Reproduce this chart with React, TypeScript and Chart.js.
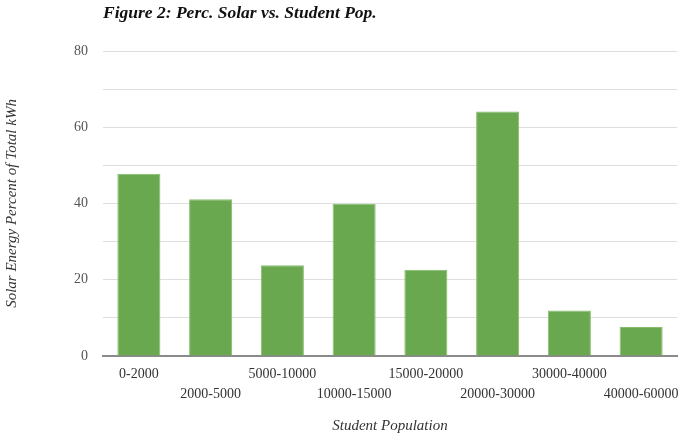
import React, { useEffect, useRef } from "react";
import { Chart, registerables } from "chart.js";

Chart.register(...registerables);

const categories: string[] = [
  "0-2000",
  "2000-5000",
  "5000-10000",
  "10000-15000",
  "15000-20000",
  "20000-30000",
  "30000-40000",
  "40000-60000",
];
const solarPercent: number[] = [47.8, 41.1, 23.8, 39.9, 22.6, 64.1, 11.9, 7.6];
const yTickLabels: number[] = [0, 20, 40, 60, 80];

const titleText = "Figure 2: Perc. Solar vs. Student Pop.";
const xTitle = "Student Population";
const yTitle = "Solar Energy Percent of Total kWh";

const SERIF = "'Liberation Serif', 'Times New Roman', serif";

export default function App() {
  const ref = useRef<HTMLCanvasElement | null>(null);

  useEffect(() => {
    if (!ref.current) return;
    const chart = new Chart(ref.current, {
      type: "bar",
      data: {
        labels: categories,
        datasets: [
          {
            label: "Solar %",
            data: solarPercent,
            backgroundColor: "#6aa84f",
            borderColor: "#86bd6c",
            borderWidth: 1,
            barPercentage: 0.6,
            categoryPercentage: 1.0,
          },
        ],
      },
      options: {
        responsive: false,
        animation: false,
        layout: { padding: { left: 0, right: 4, top: 0, bottom: 0 } },
        plugins: {
          legend: { display: false },
          tooltip: { enabled: false },
          title: {
            display: true,
            text: titleText,
            align: "start",
            fullSize: false,
            color: "#111",
            font: { family: SERIF, size: 17.5, style: "italic", weight: "bold" },
            padding: { top: 3, bottom: 27 },
          },
        },
        scales: {
          x: {
            grid: { display: false, drawTicks: false },
            border: { display: true, color: "#8a8a8a", width: 2 },
            ticks: {
              autoSkip: false,
              maxRotation: 0,
              minRotation: 0,
              padding: 8,
              color: "#333",
              font: { family: SERIF, size: 14, lineHeight: 1.43 },
              callback: (_v: any, i: number) =>
                i % 2 === 1 ? ["", categories[i]] : categories[i],
            },
            title: {
              display: true,
              text: xTitle,
              color: "#333",
              font: { family: SERIF, size: 15, style: "italic" },
              padding: { top: 5, bottom: 0 },
            },
            afterFit: (scale: any) => {
              scale.paddingRight = 0;
              scale.paddingLeft = 0;
            },
          },
          y: {
            min: 0,
            max: 80,
            grid: { color: "#dedede", lineWidth: 1, drawTicks: false },
            border: { display: false },
            ticks: {
              stepSize: 10,
              padding: 15,
              color: "#555",
              font: { family: SERIF, size: 14 },
              callback: (v: any) =>
                yTickLabels.includes(Number(v)) ? String(v) : "",
            },
            title: {
              display: true,
              text: yTitle,
              color: "#333",
              font: { family: SERIF, size: 15, style: "italic" },
              padding: { top: 3, bottom: 3 },
            },
            afterFit: (scale: any) => {
              scale.width = 103;
            },
          },
        },
      },
    });
    return () => chart.destroy();
  }, []);

  return (
    <div style={{ position: "fixed", left: 0, top: 0, width: 681, height: 435, background: "#fff" }}>
      <canvas ref={ref} width={681} height={435} style={{ width: 681, height: 435 }} />
    </div>
  );
}
